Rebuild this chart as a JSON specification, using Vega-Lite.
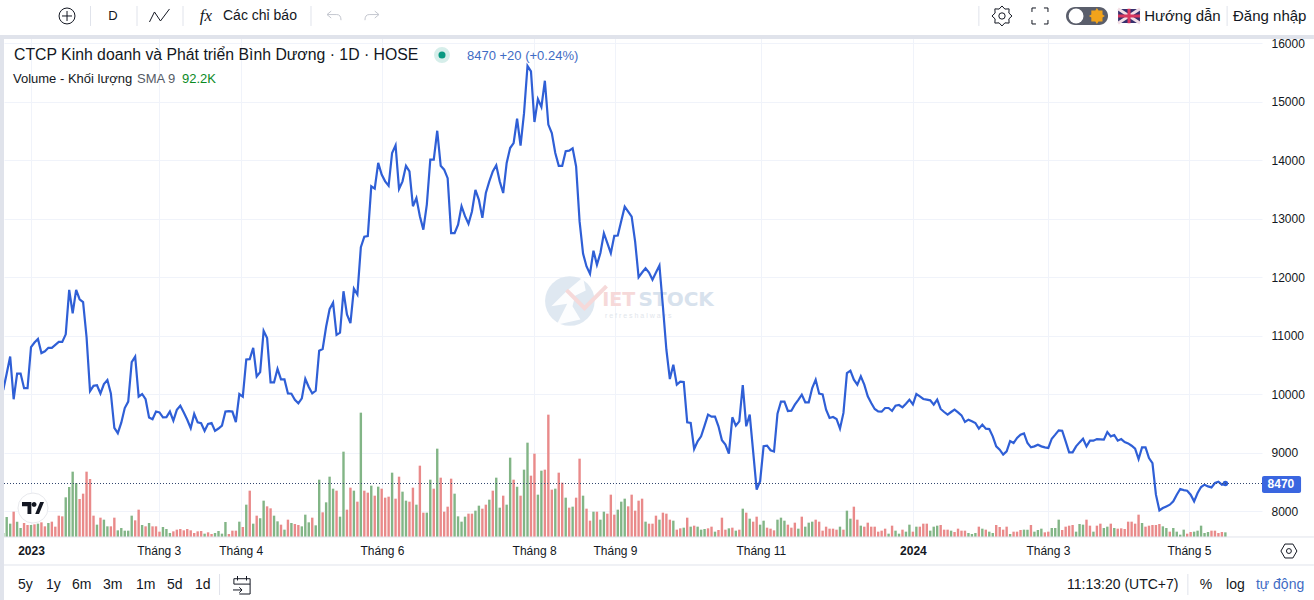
{"$schema":"https://vega.github.io/schema/vega-lite/v6.json","width":1258,"height":500,"autosize":"none","padding":{"left":4,"top":37,"right":52,"bottom":63},"background":"white","view":{"stroke":null},
"config":{"text":{"font":"Liberation Sans","fontSize":13,"align":"left","baseline":"middle","color":"#131722"},"axis":{"labelFont":"Liberation Sans"}},
"data":{"values":[{"note":"annotation"}]},
"datasets":{"daily":[
{"i":0,"price":10067,"vol":60,"dir":"up"},{"i":1,"price":10350,"vol":300,"dir":"up"},{"i":2,"price":10640,"vol":200,"dir":"up"},{"i":3,"price":9910,"vol":380,"dir":"down"},{"i":4,"price":10350,"vol":230,"dir":"up"},{"i":5,"price":10350,"vol":135,"dir":"up"},{"i":6,"price":10100,"vol":210,"dir":"down"},{"i":7,"price":10100,"vol":180,"dir":"down"},{"i":8,"price":10800,"vol":180,"dir":"up"},{"i":9,"price":10880,"vol":190,"dir":"down"},
{"i":10,"price":10940,"vol":200,"dir":"up"},{"i":11,"price":10700,"vol":220,"dir":"down"},{"i":12,"price":10730,"vol":160,"dir":"down"},{"i":13,"price":10790,"vol":210,"dir":"up"},{"i":14,"price":10790,"vol":230,"dir":"down"},{"i":15,"price":10840,"vol":155,"dir":"down"},{"i":16,"price":10890,"vol":320,"dir":"down"},{"i":17,"price":10890,"vol":310,"dir":"down"},{"i":18,"price":11020,"vol":595,"dir":"up"},{"i":19,"price":11780,"vol":750,"dir":"up"},
{"i":20,"price":11380,"vol":980,"dir":"up"},{"i":21,"price":11780,"vol":810,"dir":"up"},{"i":22,"price":11620,"vol":570,"dir":"down"},{"i":23,"price":11570,"vol":650,"dir":"down"},{"i":24,"price":10970,"vol":980,"dir":"down"},{"i":25,"price":10050,"vol":870,"dir":"down"},{"i":26,"price":10140,"vol":320,"dir":"down"},{"i":27,"price":10150,"vol":185,"dir":"up"},{"i":28,"price":10010,"vol":290,"dir":"down"},{"i":29,"price":10170,"vol":260,"dir":"up"},
{"i":30,"price":10240,"vol":160,"dir":"up"},{"i":31,"price":10010,"vol":160,"dir":"down"},{"i":32,"price":9420,"vol":290,"dir":"down"},{"i":33,"price":9330,"vol":100,"dir":"up"},{"i":34,"price":9510,"vol":135,"dir":"up"},{"i":35,"price":9760,"vol":95,"dir":"up"},{"i":36,"price":9870,"vol":95,"dir":"up"},{"i":37,"price":10545,"vol":320,"dir":"up"},{"i":38,"price":10640,"vol":250,"dir":"down"},{"i":39,"price":9955,"vol":410,"dir":"down"},
{"i":40,"price":10000,"vol":180,"dir":"up"},{"i":41,"price":9910,"vol":160,"dir":"down"},{"i":42,"price":9600,"vol":210,"dir":"up"},{"i":43,"price":9570,"vol":160,"dir":"down"},{"i":44,"price":9700,"vol":160,"dir":"down"},{"i":45,"price":9685,"vol":80,"dir":"down"},{"i":46,"price":9600,"vol":150,"dir":"up"},{"i":47,"price":9605,"vol":120,"dir":"up"},{"i":48,"price":9700,"vol":60,"dir":"up"},{"i":49,"price":9545,"vol":85,"dir":"down"},
{"i":50,"price":9730,"vol":110,"dir":"down"},{"i":51,"price":9800,"vol":120,"dir":"down"},{"i":52,"price":9685,"vol":100,"dir":"down"},{"i":53,"price":9560,"vol":120,"dir":"down"},{"i":54,"price":9415,"vol":100,"dir":"down"},{"i":55,"price":9660,"vol":60,"dir":"down"},{"i":56,"price":9515,"vol":85,"dir":"down"},{"i":57,"price":9500,"vol":90,"dir":"down"},{"i":58,"price":9370,"vol":50,"dir":"up"},{"i":59,"price":9490,"vol":70,"dir":"down"},
{"i":60,"price":9505,"vol":45,"dir":"down"},{"i":61,"price":9370,"vol":60,"dir":"up"},{"i":62,"price":9410,"vol":90,"dir":"up"},{"i":63,"price":9460,"vol":50,"dir":"up"},{"i":64,"price":9700,"vol":225,"dir":"up"},{"i":65,"price":9708,"vol":45,"dir":"down"},{"i":66,"price":9700,"vol":95,"dir":"down"},{"i":67,"price":9520,"vol":95,"dir":"down"},{"i":68,"price":10000,"vol":230,"dir":"up"},{"i":69,"price":9955,"vol":150,"dir":"down"},
{"i":70,"price":10590,"vol":485,"dir":"up"},{"i":71,"price":10595,"vol":695,"dir":"down"},{"i":72,"price":10790,"vol":200,"dir":"up"},{"i":73,"price":10300,"vol":320,"dir":"down"},{"i":74,"price":10375,"vol":280,"dir":"up"},{"i":75,"price":11080,"vol":545,"dir":"up"},{"i":76,"price":10955,"vol":460,"dir":"down"},{"i":77,"price":10200,"vol":430,"dir":"down"},{"i":78,"price":10200,"vol":320,"dir":"up"},{"i":79,"price":10430,"vol":235,"dir":"up"},
{"i":80,"price":10250,"vol":185,"dir":"down"},{"i":81,"price":10250,"vol":110,"dir":"up"},{"i":82,"price":10010,"vol":260,"dir":"down"},{"i":83,"price":10005,"vol":210,"dir":"up"},{"i":84,"price":9900,"vol":195,"dir":"down"},{"i":85,"price":9840,"vol":180,"dir":"down"},{"i":86,"price":9925,"vol":160,"dir":"up"},{"i":87,"price":10260,"vol":335,"dir":"up"},{"i":88,"price":10120,"vol":220,"dir":"up"},{"i":89,"price":10010,"vol":290,"dir":"down"},
{"i":90,"price":10055,"vol":175,"dir":"up"},{"i":91,"price":10740,"vol":860,"dir":"up"},{"i":92,"price":10770,"vol":370,"dir":"down"},{"i":93,"price":11150,"vol":520,"dir":"up"},{"i":94,"price":11450,"vol":905,"dir":"up"},{"i":95,"price":11560,"vol":725,"dir":"up"},{"i":96,"price":11010,"vol":695,"dir":"down"},{"i":97,"price":11050,"vol":305,"dir":"up"},{"i":98,"price":11757,"vol":1280,"dir":"up"},{"i":99,"price":11360,"vol":410,"dir":"down"},
{"i":100,"price":11210,"vol":740,"dir":"down"},{"i":101,"price":11800,"vol":695,"dir":"up"},{"i":102,"price":11700,"vol":530,"dir":"down"},{"i":103,"price":12510,"vol":1865,"dir":"up"},{"i":104,"price":12690,"vol":695,"dir":"down"},{"i":105,"price":12700,"vol":665,"dir":"down"},{"i":106,"price":13550,"vol":770,"dir":"up"},{"i":107,"price":13510,"vol":620,"dir":"down"},{"i":108,"price":13950,"vol":755,"dir":"up"},{"i":109,"price":13750,"vol":725,"dir":"down"},
{"i":110,"price":13635,"vol":590,"dir":"down"},{"i":111,"price":13560,"vol":605,"dir":"down"},{"i":112,"price":14120,"vol":965,"dir":"up"},{"i":113,"price":14250,"vol":575,"dir":"down"},{"i":114,"price":13505,"vol":905,"dir":"down"},{"i":115,"price":13635,"vol":680,"dir":"up"},{"i":116,"price":13900,"vol":545,"dir":"up"},{"i":117,"price":13805,"vol":530,"dir":"down"},{"i":118,"price":13210,"vol":740,"dir":"down"},{"i":119,"price":13350,"vol":485,"dir":"up"},
{"i":120,"price":13040,"vol":1070,"dir":"down"},{"i":121,"price":12810,"vol":365,"dir":"down"},{"i":122,"price":13235,"vol":365,"dir":"up"},{"i":123,"price":14005,"vol":860,"dir":"up"},{"i":124,"price":14005,"vol":725,"dir":"down"},{"i":125,"price":14500,"vol":1325,"dir":"up"},{"i":126,"price":13900,"vol":890,"dir":"down"},{"i":127,"price":13835,"vol":380,"dir":"down"},{"i":128,"price":13690,"vol":455,"dir":"down"},{"i":129,"price":12750,"vol":875,"dir":"down"},
{"i":130,"price":12750,"vol":650,"dir":"up"},{"i":131,"price":12895,"vol":310,"dir":"up"},{"i":132,"price":13210,"vol":230,"dir":"up"},{"i":133,"price":13040,"vol":305,"dir":"up"},{"i":134,"price":12910,"vol":350,"dir":"down"},{"i":135,"price":13120,"vol":350,"dir":"down"},{"i":136,"price":13490,"vol":395,"dir":"up"},{"i":137,"price":13320,"vol":470,"dir":"up"},{"i":138,"price":13010,"vol":425,"dir":"down"},{"i":139,"price":13435,"vol":485,"dir":"down"},
{"i":140,"price":13635,"vol":560,"dir":"up"},{"i":141,"price":13805,"vol":695,"dir":"down"},{"i":142,"price":13910,"vol":890,"dir":"up"},{"i":143,"price":13635,"vol":440,"dir":"up"},{"i":144,"price":13435,"vol":620,"dir":"down"},{"i":145,"price":13950,"vol":485,"dir":"up"},{"i":146,"price":14205,"vol":1190,"dir":"up"},{"i":147,"price":14290,"vol":860,"dir":"down"},{"i":148,"price":14705,"vol":755,"dir":"up"},{"i":149,"price":14245,"vol":620,"dir":"down"},
{"i":150,"price":14800,"vol":1010,"dir":"up"},{"i":151,"price":15610,"vol":1415,"dir":"up"},{"i":152,"price":15515,"vol":920,"dir":"down"},{"i":153,"price":14650,"vol":1250,"dir":"down"},{"i":154,"price":15040,"vol":635,"dir":"up"},{"i":155,"price":14905,"vol":995,"dir":"up"},{"i":156,"price":15355,"vol":1010,"dir":"down"},{"i":157,"price":14605,"vol":1835,"dir":"down"},{"i":158,"price":14460,"vol":710,"dir":"down"},{"i":159,"price":14120,"vol":725,"dir":"up"},
{"i":160,"price":13900,"vol":965,"dir":"down"},{"i":161,"price":13900,"vol":815,"dir":"down"},{"i":162,"price":14150,"vol":590,"dir":"up"},{"i":163,"price":14160,"vol":440,"dir":"down"},{"i":164,"price":14200,"vol":455,"dir":"up"},{"i":165,"price":13890,"vol":590,"dir":"down"},{"i":166,"price":12950,"vol":1175,"dir":"down"},{"i":167,"price":12400,"vol":620,"dir":"up"},{"i":168,"price":12180,"vol":425,"dir":"down"},{"i":169,"price":12055,"vol":245,"dir":"down"},
{"i":170,"price":12450,"vol":380,"dir":"up"},{"i":171,"price":12210,"vol":380,"dir":"down"},{"i":172,"price":12410,"vol":260,"dir":"up"},{"i":173,"price":12748,"vol":380,"dir":"up"},{"i":174,"price":12578,"vol":350,"dir":"down"},{"i":175,"price":12407,"vol":635,"dir":"down"},{"i":176,"price":12703,"vol":335,"dir":"down"},{"i":177,"price":12708,"vol":410,"dir":"up"},{"i":178,"price":12958,"vol":530,"dir":"up"},{"i":179,"price":13203,"vol":575,"dir":"up"},
{"i":180,"price":13118,"vol":460,"dir":"down"},{"i":181,"price":13033,"vol":635,"dir":"down"},{"i":182,"price":12606,"vol":395,"dir":"down"},{"i":183,"price":11997,"vol":545,"dir":"down"},{"i":184,"price":12077,"vol":575,"dir":"down"},{"i":185,"price":12150,"vol":230,"dir":"up"},{"i":186,"price":12077,"vol":200,"dir":"down"},{"i":187,"price":11952,"vol":200,"dir":"down"},{"i":188,"price":12077,"vol":320,"dir":"down"},{"i":189,"price":12196,"vol":260,"dir":"up"},
{"i":190,"price":11496,"vol":365,"dir":"down"},{"i":191,"price":10757,"vol":350,"dir":"down"},{"i":192,"price":10256,"vol":260,"dir":"down"},{"i":193,"price":10500,"vol":245,"dir":"up"},{"i":194,"price":10159,"vol":110,"dir":"down"},{"i":195,"price":10210,"vol":130,"dir":"down"},{"i":196,"price":10205,"vol":140,"dir":"up"},{"i":197,"price":9516,"vol":290,"dir":"down"},{"i":198,"price":9505,"vol":155,"dir":"up"},{"i":199,"price":9061,"vol":170,"dir":"down"},
{"i":200,"price":9192,"vol":155,"dir":"up"},{"i":201,"price":9277,"vol":110,"dir":"up"},{"i":202,"price":9459,"vol":120,"dir":"up"},{"i":203,"price":9647,"vol":130,"dir":"down"},{"i":204,"price":9613,"vol":155,"dir":"down"},{"i":205,"price":9613,"vol":80,"dir":"up"},{"i":206,"price":9448,"vol":105,"dir":"down"},{"i":207,"price":9209,"vol":290,"dir":"down"},{"i":208,"price":9135,"vol":110,"dir":"down"},{"i":209,"price":8981,"vol":130,"dir":"up"},
{"i":210,"price":9602,"vol":140,"dir":"down"},{"i":211,"price":9459,"vol":95,"dir":"up"},{"i":212,"price":9533,"vol":110,"dir":"down"},{"i":213,"price":10154,"vol":425,"dir":"up"},{"i":214,"price":9448,"vol":365,"dir":"down"},{"i":215,"price":9647,"vol":275,"dir":"up"},{"i":216,"price":9010,"vol":230,"dir":"down"},{"i":217,"price":8367,"vol":305,"dir":"down"},{"i":218,"price":8509,"vol":185,"dir":"up"},{"i":219,"price":9107,"vol":245,"dir":"up"},
{"i":220,"price":9118,"vol":140,"dir":"down"},{"i":221,"price":9038,"vol":125,"dir":"down"},{"i":222,"price":9016,"vol":100,"dir":"down"},{"i":223,"price":9664,"vol":260,"dir":"up"},{"i":224,"price":9869,"vol":290,"dir":"up"},{"i":225,"price":9869,"vol":245,"dir":"up"},{"i":226,"price":9710,"vol":185,"dir":"down"},{"i":227,"price":9715,"vol":140,"dir":"down"},{"i":228,"price":9818,"vol":215,"dir":"down"},{"i":229,"price":9900,"vol":125,"dir":"up"},
{"i":230,"price":9989,"vol":305,"dir":"down"},{"i":231,"price":9858,"vol":155,"dir":"up"},{"i":232,"price":9858,"vol":215,"dir":"up"},{"i":233,"price":10102,"vol":230,"dir":"up"},{"i":234,"price":10245,"vol":260,"dir":"down"},{"i":235,"price":10006,"vol":230,"dir":"down"},{"i":236,"price":9994,"vol":95,"dir":"down"},{"i":237,"price":9733,"vol":155,"dir":"down"},{"i":238,"price":9590,"vol":125,"dir":"down"},{"i":239,"price":9607,"vol":125,"dir":"down"},
{"i":240,"price":9573,"vol":110,"dir":"down"},{"i":241,"price":9408,"vol":155,"dir":"up"},{"i":242,"price":9676,"vol":110,"dir":"down"},{"i":243,"price":10358,"vol":395,"dir":"up"},{"i":244,"price":10398,"vol":275,"dir":"up"},{"i":245,"price":10245,"vol":455,"dir":"down"},{"i":246,"price":10159,"vol":260,"dir":"down"},{"i":247,"price":10302,"vol":170,"dir":"up"},{"i":248,"price":10159,"vol":155,"dir":"down"},{"i":249,"price":9960,"vol":215,"dir":"down"},
{"i":250,"price":9846,"vol":155,"dir":"down"},{"i":251,"price":9744,"vol":155,"dir":"down"},{"i":252,"price":9704,"vol":80,"dir":"down"},{"i":253,"price":9698,"vol":95,"dir":"down"},{"i":254,"price":9761,"vol":125,"dir":"down"},{"i":255,"price":9761,"vol":50,"dir":"up"},{"i":256,"price":9710,"vol":170,"dir":"down"},{"i":257,"price":9801,"vol":95,"dir":"up"},{"i":258,"price":9812,"vol":50,"dir":"up"},{"i":259,"price":9772,"vol":110,"dir":"down"},
{"i":260,"price":9835,"vol":80,"dir":"up"},{"i":261,"price":9903,"vol":185,"dir":"up"},{"i":262,"price":9824,"vol":80,"dir":"down"},{"i":263,"price":10000,"vol":155,"dir":"up"},{"i":264,"price":9960,"vol":155,"dir":"down"},{"i":265,"price":9915,"vol":200,"dir":"down"},{"i":266,"price":9903,"vol":200,"dir":"down"},{"i":267,"price":9892,"vol":95,"dir":"up"},{"i":268,"price":9818,"vol":155,"dir":"up"},{"i":269,"price":9903,"vol":170,"dir":"up"},
{"i":270,"price":9744,"vol":180,"dir":"down"},{"i":271,"price":9692,"vol":110,"dir":"down"},{"i":272,"price":9647,"vol":110,"dir":"down"},{"i":273,"price":9692,"vol":95,"dir":"up"},{"i":274,"price":9732,"vol":75,"dir":"down"},{"i":275,"price":9686,"vol":125,"dir":"down"},{"i":276,"price":9635,"vol":95,"dir":"down"},{"i":277,"price":9521,"vol":95,"dir":"down"},{"i":278,"price":9561,"vol":60,"dir":"up"},{"i":279,"price":9533,"vol":45,"dir":"up"},
{"i":280,"price":9504,"vol":60,"dir":"up"},{"i":281,"price":9407,"vol":155,"dir":"down"},{"i":282,"price":9476,"vol":125,"dir":"up"},{"i":283,"price":9407,"vol":110,"dir":"down"},{"i":284,"price":9401,"vol":80,"dir":"up"},{"i":285,"price":9276,"vol":60,"dir":"up"},{"i":286,"price":9105,"vol":180,"dir":"down"},{"i":287,"price":9048,"vol":150,"dir":"down"},{"i":288,"price":8963,"vol":110,"dir":"down"},{"i":289,"price":9020,"vol":155,"dir":"down"},
{"i":290,"price":9196,"vol":45,"dir":"up"},{"i":291,"price":9162,"vol":80,"dir":"down"},{"i":292,"price":9248,"vol":80,"dir":"down"},{"i":293,"price":9305,"vol":105,"dir":"down"},{"i":294,"price":9327,"vol":110,"dir":"up"},{"i":295,"price":9162,"vol":110,"dir":"up"},{"i":296,"price":9088,"vol":180,"dir":"down"},{"i":297,"price":9105,"vol":80,"dir":"up"},{"i":298,"price":9134,"vol":105,"dir":"up"},{"i":299,"price":9105,"vol":125,"dir":"up"},
{"i":300,"price":9088,"vol":70,"dir":"down"},{"i":301,"price":9077,"vol":80,"dir":"down"},{"i":302,"price":9236,"vol":135,"dir":"up"},{"i":303,"price":9305,"vol":135,"dir":"up"},{"i":304,"price":9379,"vol":260,"dir":"up"},{"i":305,"price":9373,"vol":105,"dir":"down"},{"i":306,"price":9190,"vol":155,"dir":"down"},{"i":307,"price":9002,"vol":170,"dir":"down"},{"i":308,"price":9002,"vol":180,"dir":"down"},{"i":309,"price":9105,"vol":80,"dir":"up"},
{"i":310,"price":9173,"vol":195,"dir":"up"},{"i":311,"price":9236,"vol":185,"dir":"up"},{"i":312,"price":9105,"vol":260,"dir":"down"},{"i":313,"price":9202,"vol":170,"dir":"down"},{"i":314,"price":9202,"vol":80,"dir":"up"},{"i":315,"price":9230,"vol":170,"dir":"down"},{"i":316,"price":9225,"vol":200,"dir":"down"},{"i":317,"price":9219,"vol":135,"dir":"up"},{"i":318,"price":9350,"vol":155,"dir":"up"},{"i":319,"price":9276,"vol":200,"dir":"down"},
{"i":320,"price":9299,"vol":135,"dir":"up"},{"i":321,"price":9202,"vol":125,"dir":"down"},{"i":322,"price":9230,"vol":130,"dir":"down"},{"i":323,"price":9179,"vol":120,"dir":"down"},{"i":324,"price":9156,"vol":230,"dir":"down"},{"i":325,"price":9116,"vol":230,"dir":"down"},{"i":326,"price":9065,"vol":200,"dir":"down"},{"i":327,"price":8888,"vol":335,"dir":"down"},{"i":328,"price":9088,"vol":210,"dir":"up"},{"i":329,"price":9088,"vol":155,"dir":"down"},
{"i":330,"price":8906,"vol":170,"dir":"down"},{"i":331,"price":8820,"vol":180,"dir":"down"},{"i":332,"price":8279,"vol":180,"dir":"down"},{"i":333,"price":8011,"vol":195,"dir":"down"},{"i":334,"price":8051,"vol":160,"dir":"up"},{"i":335,"price":8079,"vol":135,"dir":"up"},{"i":336,"price":8108,"vol":80,"dir":"down"},{"i":337,"price":8165,"vol":135,"dir":"up"},{"i":338,"price":8279,"vol":80,"dir":"up"},{"i":339,"price":8376,"vol":35,"dir":"up"},
{"i":340,"price":8358,"vol":110,"dir":"up"},{"i":341,"price":8347,"vol":50,"dir":"down"},{"i":342,"price":8279,"vol":75,"dir":"down"},{"i":343,"price":8165,"vol":80,"dir":"up"},{"i":344,"price":8307,"vol":95,"dir":"up"},{"i":345,"price":8410,"vol":170,"dir":"up"},{"i":346,"price":8450,"vol":60,"dir":"up"},{"i":347,"price":8421,"vol":75,"dir":"up"},{"i":348,"price":8404,"vol":95,"dir":"down"},{"i":349,"price":8478,"vol":95,"dir":"down"},
{"i":350,"price":8501,"vol":60,"dir":"down"},{"i":351,"price":8450,"vol":75,"dir":"down"},{"i":352,"price":8470,"vol":70,"dir":"up"}
]},
"layer":[
{"data":{"name":"daily"},"mark":{"type":"bar","size":2.4,"clip":true},"encoding":{
"x":{"field":"i","type":"quantitative","scale":{"domain":[0.22,362.55],"nice":false,"zero":false,"padding":0},"axis":{"title":null,"values":[8,44.8,68.4,109.1,152.9,176.2,218.2,262,300.9,341.5],"labelExpr":"datum.value==8?'2023':datum.value==44.8?'Tháng 3':datum.value==68.4?'Tháng 4':datum.value==109.1?'Tháng 6':datum.value==152.9?'Tháng 8':datum.value==176.2?'Tháng 9':datum.value==218.2?'Tháng 11':datum.value==262?'2024':datum.value==300.9?'Tháng 3':'Tháng 5'","labelFontSize":12,"labelColor":"#131722","labelPadding":8,"labelOverlap":false,"labelFlush":false,"ticks":false,"domain":false,"grid":true,"gridColor":"#f0f3fa","labelFontWeight":{"condition":{"test":"datum.value==8||datum.value==262","value":"bold"},"value":"normal"}}},
"y":{"field":"vol","type":"quantitative","scale":{"domain":[0,7500],"nice":false,"zero":true},"axis":null},
"color":{"field":"dir","type":"nominal","scale":{"domain":["up","down"],"range":["#82b586","#e98a8a"]},"legend":null}}},
{"layer":[
{"mark":{"type":"circle","size":2460,"color":"#dce6ef","opacity":0.9},"encoding":{"x":{"datum":163.2},"y":{"datum":11590,"scale":{"domain":[7555.6,16102.6],"nice":false,"zero":false},"axis":{"orient":"right","title":null,"values":[8000,9000,10000,11000,12000,13000,14000,15000,16000],"format":"d","labelFontSize":12,"labelColor":"#131722","labelPadding":9,"ticks":false,"domain":false,"grid":true,"gridColor":"#f0f3fa","labelFlush":false}}}},
{"mark":{"type":"point","shape":"M-.5,.9L-.1,.1L-.7,.2L-.1,-.4L.5,-.9L.6,-.4L.2,-.2L.1,.2L.4,.7Z","size":2800,"filled":true,"color":"#ffffff","opacity":0.9},"encoding":{"x":{"datum":163.2},"y":{"datum":11590}}},
{"mark":{"type":"point","shape":"M-1,-.4L-.1,.5L1,-.6","size":1600,"filled":false,"stroke":"#f6d9d9","strokeWidth":4,"opacity":1},"encoding":{"x":{"datum":168},"y":{"datum":11640}}},
{"mark":{"type":"text","text":"IET","font":"DejaVu Sans","fontWeight":"bold","fontSize":19,"color":"#f6d9d9"},"encoding":{"x":{"datum":172.5},"y":{"datum":11607}}},
{"mark":{"type":"text","text":"STOCK","font":"DejaVu Sans","fontWeight":"bold","fontSize":20,"color":"#d8e2ed"},"encoding":{"x":{"datum":183},"y":{"datum":11607}}},
{"mark":{"type":"text","text":"r   e   f   r   e   s   h      a   l   w   a   y   s","fontSize":7,"color":"#e2e6ec"},"encoding":{"x":{"datum":173.3},"y":{"datum":11340}}},
{"data":{"name":"daily"},"mark":{"type":"line","stroke":"#2f5fd6","strokeWidth":2.2,"clip":true},"encoding":{
"x":{"field":"i","type":"quantitative"},
"y":{"field":"price","type":"quantitative"}}},
{"data":{"name":"daily"},"transform":[{"filter":"datum.i==352"}],"mark":{"type":"circle","size":30,"color":"#2f5fd6","opacity":1},"encoding":{"x":{"field":"i","type":"quantitative"},"y":{"field":"price","type":"quantitative"}}},
{"mark":{"type":"rule","stroke":"#32466e","strokeDash":[1,2],"strokeWidth":1},"encoding":{"x":{"datum":0.22},"x2":{"datum":362.55},"y":{"datum":8470}}},
{"mark":{"type":"rect","color":"#e0e3eb"},"encoding":{"x":{"datum":-0.93},"x2":{"datum":377.5},"y":{"datum":16137},"y2":{"datum":16068}}},
{"mark":{"type":"rect","color":"#e0e3eb"},"encoding":{"x":{"datum":-0.93},"x2":{"datum":0.22},"y":{"datum":16137},"y2":{"datum":6479}}},
{"mark":{"type":"rule","stroke":"#e0e3eb","strokeWidth":1},"encoding":{"x":{"datum":0.22},"x2":{"datum":377.5},"y":{"datum":7556}}},
{"mark":{"type":"rule","stroke":"#e0e3eb","strokeWidth":1},"encoding":{"x":{"datum":0.22},"x2":{"datum":377.5},"y":{"datum":7077}}},
{"mark":{"type":"rule","stroke":"#e0e3eb","strokeWidth":1},"encoding":{"x":{"datum":25.13},"y":{"datum":16633},"y2":{"datum":16291}}},
{"mark":{"type":"rule","stroke":"#e0e3eb","strokeWidth":1},"encoding":{"x":{"datum":38.53},"y":{"datum":16633},"y2":{"datum":16291}}},
{"mark":{"type":"rule","stroke":"#e0e3eb","strokeWidth":1},"encoding":{"x":{"datum":51.78},"y":{"datum":16633},"y2":{"datum":16291}}},
{"mark":{"type":"rule","stroke":"#e0e3eb","strokeWidth":1},"encoding":{"x":{"datum":88.64},"y":{"datum":16633},"y2":{"datum":16291}}},
{"mark":{"type":"rule","stroke":"#e0e3eb","strokeWidth":1},"encoding":{"x":{"datum":281},"y":{"datum":16633},"y2":{"datum":16291}}},
{"mark":{"type":"rule","stroke":"#e0e3eb","strokeWidth":1},"encoding":{"x":{"datum":352.5},"y":{"datum":16633},"y2":{"datum":16291}}},
{"mark":{"type":"rule","stroke":"#e0e3eb","strokeWidth":1},"encoding":{"x":{"datum":62.3},"y":{"datum":6923},"y2":{"datum":6564}}},
{"mark":{"type":"rule","stroke":"#e0e3eb","strokeWidth":1},"encoding":{"x":{"datum":341.2},"y":{"datum":6923},"y2":{"datum":6564}}},
{"mark":{"type":"point","shape":"circle","size":254,"filled":false,"stroke":"#131722","strokeWidth":1,"opacity":1},"encoding":{"x":{"datum":18.37},"y":{"datum":16462}}},
{"mark":{"type":"point","shape":"M-1,0H1M0,-1V1","size":100,"filled":false,"stroke":"#131722","strokeWidth":1,"opacity":1},"encoding":{"x":{"datum":18.37},"y":{"datum":16462}}},
{"mark":{"type":"text","text":"D","align":"center","fontSize":13},"encoding":{"x":{"datum":31.62},"y":{"datum":16462}}},
{"mark":{"type":"point","shape":"M-1,.6L-.5,-.4L.1,.5L1,-.7","size":400,"filled":false,"stroke":"#131722","strokeWidth":1,"opacity":1},"encoding":{"x":{"datum":45},"y":{"datum":16462}}},
{"mark":{"type":"text","text":"fx","align":"center","font":"Liberation Serif","fontStyle":"italic","fontSize":17},"encoding":{"x":{"datum":58.4},"y":{"datum":16462}}},
{"mark":{"type":"text","text":"Các chỉ báo","fontSize":14},"encoding":{"x":{"datum":63.3},"y":{"datum":16462}}},
{"mark":{"type":"point","shape":"M-1,-.2L-.4,-.7M-1,-.2L-.4,.3M-1,-.2H.4Q1,-.2 1,.6","size":196,"filled":false,"stroke":"#c4c7cf","strokeWidth":1,"opacity":1},"encoding":{"x":{"datum":95.27},"y":{"datum":16462}}},
{"mark":{"type":"point","shape":"M1,-.2L.4,-.7M1,-.2L.4,.3M1,-.2H-.4Q-1,-.2 -1,.6","size":196,"filled":false,"stroke":"#c4c7cf","strokeWidth":1,"opacity":1},"encoding":{"x":{"datum":106.2},"y":{"datum":16462}}},
{"mark":{"type":"point","shape":"M1,0L.69,.29L.71,.71L.29,.69L0,1L-.29,.69L-.71,.71L-.69,.29L-1,0L-.69,-.29L-.71,-.71L-.29,-.69L0,-1L.29,-.69L.71,-.71L.69,-.29Z","size":400,"filled":false,"stroke":"#131722","strokeWidth":1,"opacity":1},"encoding":{"x":{"datum":287.66},"y":{"datum":16462}}},
{"mark":{"type":"point","shape":"circle","size":40,"filled":false,"stroke":"#131722","strokeWidth":1,"opacity":1},"encoding":{"x":{"datum":287.66},"y":{"datum":16462}}},
{"mark":{"type":"point","shape":"M-1,-.5V-1H-.5M.5,-1H1V-.5M1,.5V1H.5M-.5,1H-1V.5","size":256,"filled":false,"stroke":"#131722","strokeWidth":1,"opacity":1},"encoding":{"x":{"datum":298.6},"y":{"datum":16462}}},
{"mark":{"type":"rect","color":"#5a5e6b","cornerRadius":9.5},"encoding":{"x":{"datum":306.1},"x2":{"datum":318.2},"y":{"datum":16615},"y2":{"datum":16308}}},
{"mark":{"type":"circle","size":220,"color":"#ffffff","opacity":1},"encoding":{"x":{"datum":309},"y":{"datum":16462}}},
{"mark":{"type":"point","shape":"M1,0L.7,.2L.7,.7L.2,.7L0,1L-.2,.7L-.7,.7L-.7,.2L-1,0L-.7,-.2L-.7,-.7L-.2,-.7L0,-1L.2,-.7L.7,-.7L.7,-.2Z","size":256,"filled":true,"color":"#f2a31b","opacity":1},"encoding":{"x":{"datum":315},"y":{"datum":16462}}},
{"mark":{"type":"rect","color":"#37306e"},"encoding":{"x":{"datum":321.1},"x2":{"datum":327.4},"y":{"datum":16581},"y2":{"datum":16342}}},
{"mark":{"type":"point","shape":"M-1,-.66L1,.66M-1,.66L1,-.66","size":484,"filled":false,"stroke":"#f3dfe6","strokeWidth":3,"opacity":1},"encoding":{"x":{"datum":324.25},"y":{"datum":16462}}},
{"mark":{"type":"point","shape":"M-1,0H1M0,-.66V.66","size":484,"filled":false,"stroke":"#d9375f","strokeWidth":3,"opacity":1},"encoding":{"x":{"datum":324.25},"y":{"datum":16462}}},
{"mark":{"type":"text","text":"Hướng dẫn","fontSize":15},"encoding":{"x":{"datum":328.6},"y":{"datum":16462}}},
{"mark":{"type":"text","text":"Đăng nhập","fontSize":15},"encoding":{"x":{"datum":354.2},"y":{"datum":16462}}},
{"mark":{"type":"text","text":"CTCP Kinh doanh và Phát triển Bình Dương · 1D · HOSE","fontSize":15.8},"encoding":{"x":{"datum":3.1},"y":{"datum":15795}}},
{"mark":{"type":"circle","size":254,"color":"#d6eeea","opacity":1},"encoding":{"x":{"datum":126.37},"y":{"datum":15795}}},
{"mark":{"type":"circle","size":50,"color":"#089981","opacity":1},"encoding":{"x":{"datum":126.37},"y":{"datum":15795}}},
{"mark":{"type":"text","text":"8470  +20 (+0.24%)","fontSize":13,"color":"#3f6cc4"},"encoding":{"x":{"datum":133.57},"y":{"datum":15778}}},
{"mark":{"type":"text","text":"Volume - Khối lượng","fontSize":13},"encoding":{"x":{"datum":2.81},"y":{"datum":15385}}},
{"mark":{"type":"text","text":"SMA 9","fontSize":13,"color":"#555b66"},"encoding":{"x":{"datum":38.53},"y":{"datum":15385}}},
{"mark":{"type":"text","text":"92.2K","fontSize":13,"color":"#0a8a1f"},"encoding":{"x":{"datum":51.49},"y":{"datum":15385}}},
{"mark":{"type":"circle","size":900,"color":"#ffffff","opacity":1},"encoding":{"x":{"datum":8.57},"y":{"datum":8051}}},
{"mark":{"type":"point","shape":"circle","size":900,"filled":false,"stroke":"#e8e9ed","strokeWidth":1,"opacity":1},"encoding":{"x":{"datum":8.57},"y":{"datum":8051}}},
{"mark":{"type":"point","shape":"M-1,-.55H-.15V.55H-.5V-.15H-1ZM.1,-.55A.22,.22 0 1 1 .1,-.11A.22,.22 0 1 1 .1,-.55ZM.2,.55L.65,-.55H1L.55,.55Z","size":484,"filled":true,"color":"#131722","opacity":1},"encoding":{"x":{"datum":8.57},"y":{"datum":8051}}},
{"mark":{"type":"rect","color":"#3a66e0","cornerRadius":2},"encoding":{"x":{"datum":362.55},"x2":{"datum":373.8},"y":{"datum":8598},"y2":{"datum":8308}}},
{"mark":{"type":"text","text":"8470","align":"center","fontSize":12,"fontWeight":"bold","color":"#ffffff"},"encoding":{"x":{"datum":368},"y":{"datum":8461}}},
{"mark":{"type":"point","shape":"M-1,0L-.5,-.87H.5L1,0L.5,.87H-.5Z","size":256,"filled":false,"stroke":"#131722","strokeWidth":1,"opacity":1},"encoding":{"x":{"datum":370.3},"y":{"datum":7316}}},
{"mark":{"type":"point","shape":"circle","size":24,"filled":false,"stroke":"#131722","strokeWidth":1,"opacity":1},"encoding":{"x":{"datum":370.3},"y":{"datum":7316}}},
{"mark":{"type":"text","text":"5y","fontSize":14},"encoding":{"x":{"datum":4.25},"y":{"datum":6735}}},
{"mark":{"type":"text","text":"1y","fontSize":14},"encoding":{"x":{"datum":12.32},"y":{"datum":6735}}},
{"mark":{"type":"text","text":"6m","fontSize":14},"encoding":{"x":{"datum":19.81},"y":{"datum":6735}}},
{"mark":{"type":"text","text":"3m","fontSize":14},"encoding":{"x":{"datum":28.74},"y":{"datum":6735}}},
{"mark":{"type":"text","text":"1m","fontSize":14},"encoding":{"x":{"datum":38.24},"y":{"datum":6735}}},
{"mark":{"type":"text","text":"5d","fontSize":14},"encoding":{"x":{"datum":47.17},"y":{"datum":6735}}},
{"mark":{"type":"text","text":"1d","fontSize":14},"encoding":{"x":{"datum":55.23},"y":{"datum":6735}}},
{"mark":{"type":"point","shape":"M-.9,-.1V-.7H.9V1H-.3M-.9,-.1H.9M-.5,-1V-.5M.5,-1V-.5M-1,.55H0M-.3,.25L0,.55L-.3,.85","size":324,"filled":false,"stroke":"#131722","strokeWidth":1,"opacity":1},"encoding":{"x":{"datum":68.77},"y":{"datum":6735}}},
{"mark":{"type":"text","text":"11:13:20 (UTC+7)","fontSize":14},"encoding":{"x":{"datum":306.4},"y":{"datum":6735}}},
{"mark":{"type":"text","text":"%","align":"center","fontSize":14},"encoding":{"x":{"datum":346.4},"y":{"datum":6735}}},
{"mark":{"type":"text","text":"log","fontSize":14},"encoding":{"x":{"datum":352.2},"y":{"datum":6735}}},
{"mark":{"type":"text","text":"tự động","fontSize":14,"color":"#3f6cc4"},"encoding":{"x":{"datum":360.8},"y":{"datum":6735}}}
]}
],
"resolve":{"scale":{"y":"independent","color":"independent"}}
}
